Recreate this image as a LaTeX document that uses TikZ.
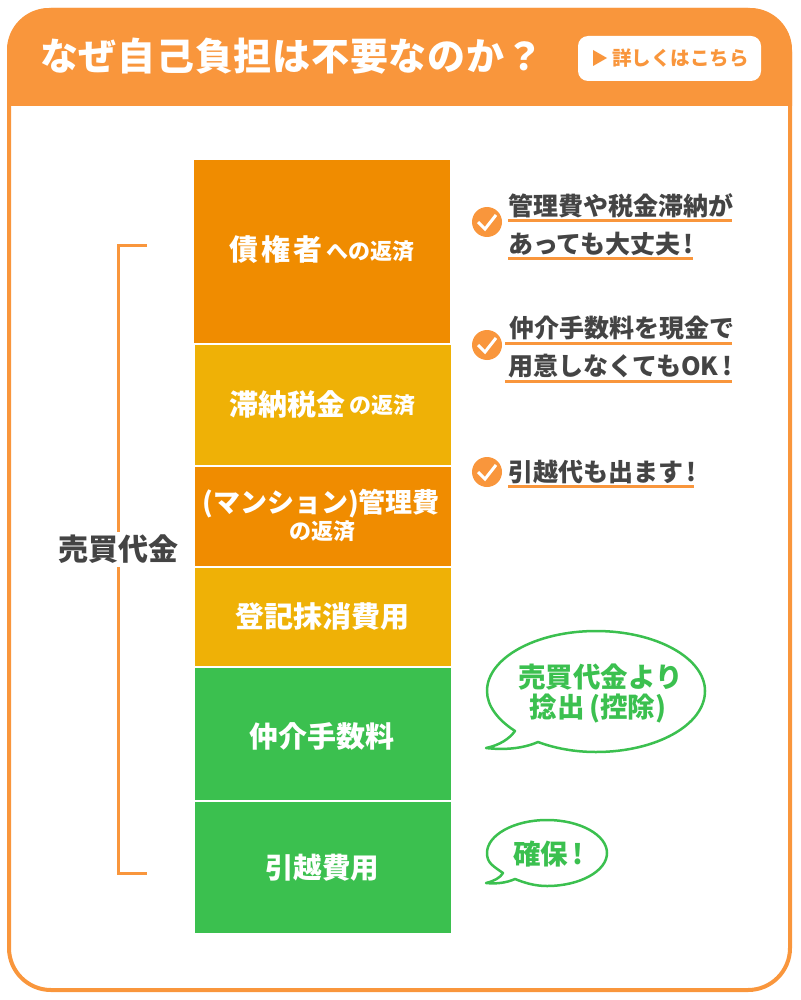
\documentclass[tikz,border=0pt]{standalone}
\usepackage{fontspec}
\newfontfamily\jp{Noto Sans CJK JP}
\newfontfamily\jpw[LetterSpace=12]{Noto Sans CJK JP}
\newfontfamily\jpt[LetterSpace=2]{Noto Sans CJK JP}
\definecolor{frameor}{HTML}{F9963C}
\definecolor{boxor}{HTML}{F08C00}
\definecolor{boxye}{HTML}{EFB106}
\definecolor{boxgr}{HTML}{3BC04F}
\definecolor{ink}{HTML}{444444}
\newcommand{\fs}[1]{\fontsize{#1}{#1}\selectfont}
\tikzset{
  tx/.style={inner sep=0pt,outer sep=0pt,font=\jp\bfseries},
  boxtx/.style={tx,text=white},
  stackbox/.style={inner sep=0pt,outer sep=0pt,anchor=north west},
  note/.style={tx,text=ink,anchor=base west,font=\jp\bfseries\fs{25}},
  under/.style={draw=frameor,line width=3pt},
  tick/.style={circle,fill=frameor,minimum size=30pt,inner sep=0pt,outer sep=0pt},
  tickmark/.style={draw=white,line width=3pt},
  bubble/.style={draw=boxgr,line width=2.5pt,fill=white,line join=round},
  bubtx/.style={tx,text=boxgr,font=\jp\bfseries\fs{27.5}},
}
\begin{document}
\begin{tikzpicture}[x=1pt,y=-1pt]
\useasboundingbox (0,0) rectangle (800,1000);
% frame and header
\draw[frameor,line width=4pt,rounded corners=42pt] (9,10) rectangle (790,990);
\fill[frameor] (7,106) {[rounded corners=42pt] -- (7,8) -- (792,8)} -- (792,106) -- cycle;
\node[tx,text=white,anchor=west,font=\jpt\bfseries\fs{38}] (title) at (40,56) {なぜ自己負担は不要なのか？};
\node[fill=white,rounded corners=10pt,minimum width=183pt,minimum height=45pt,inner sep=0pt,outer sep=0pt] (btn) at (669.5,58.5) {};
\fill[frameor] (593,50) -- (607,58) -- (593,66) -- cycle;
\node[tx,text=frameor,anchor=west,font=\jp\bfseries\fs{19.5}] (btntx) at (612,58) {詳しくはこちら};
% stack
\node[stackbox,fill=boxor,minimum width=256pt,minimum height=183pt] (b1) at (194,160) {};
\node[stackbox,fill=boxye,minimum width=256pt,minimum height=120pt] (b2) at (195,345) {};
\node[stackbox,fill=boxor,minimum width=256pt,minimum height=99pt] (b3) at (195,467) {};
\node[stackbox,fill=boxye,minimum width=256pt,minimum height=98pt] (b4) at (195,568) {};
\node[stackbox,fill=boxgr,minimum width=256pt,minimum height=132pt] (b5) at (195,668) {};
\node[stackbox,fill=boxgr,minimum width=256pt,minimum height=131pt] (b6) at (195,802) {};
\node[boxtx,anchor=west] (t1) at (229,250) {\jpw\bfseries\fs{29}債権者\hspace{4pt}\jp\bfseries\fs{22}\raisebox{1.5pt}{への返済}};
\node[boxtx,anchor=west] (t2) at (229,404) {\fs{29}滞納税金\,\fs{22}\raisebox{1.5pt}{の返済}};
\node[boxtx,anchor=center,font=\jp\bfseries\fs{27}] (t3) at (321,504) {(マンション)管理費};
\node[boxtx,anchor=center,font=\jp\bfseries\fs{22}] (t3b) at (322,531) {の返済};
\node[boxtx,anchor=center,font=\jp\bfseries\fs{29}] (t4) at (322,617) {登記抹消費用};
\node[boxtx,anchor=center,font=\jp\bfseries\fs{29}] (t5) at (322,736) {仲介手数料};
\node[boxtx,anchor=center,font=\jp\bfseries\fs{28.5}] (t6) at (322,868) {引越費用};
% bracket
\node[tx,text=ink,font=\jp\bfseries\fs{30},inner sep=3pt] (lab) at (118,549.5) {売買代金};
\coordinate (brt) at (147,245);
\coordinate (brb) at (147,873);
\draw[frameor,line width=3pt] (brt) -- (118,245) -- (lab.north -| 118,0);
\draw[frameor,line width=3pt] (lab.south -| 118,0) -- (118,873) -- (brb);
% notes
\node[note] (n1) at (508,215) {管理費や税金滞納が};
\node[note] (n2) at (508,253) {あっても大丈夫\hspace{3pt}!};
\node[note] (n3) at (509,337) {仲介手数料を現金で};
\node[note] (n4) at (508,375.5) {用意しなくてもOK\hspace{4pt}!};
\node[note] (n5) at (508,481.5) {引越代も出ます\hspace{3pt}!};
\draw[under] (508,221) -- (732,221);
\draw[under] (508,258) -- (693,258);
\draw[under] (505,343) -- (732,343);
\draw[under] (505,381) -- (732,381);
\draw[under] (508,486) -- (694,486);
\node[tick] (c1) at (487,222) {};
\node[tick] (c2) at (487,345) {};
\node[tick] (c3) at (487,472) {};
\foreach \c in {c1,c2,c3}
  \draw[tickmark] ([shift={(-9,0)}]\c.center) -- ([shift={(-2,7)}]\c.center) -- ([shift={(9,-7)}]\c.center);
% bubbles
\draw[bubble] (515,731)
  .. controls (498,720) and (487,706) .. (487,691)
  .. controls (487,658) and (536,631) .. (596,631)
  .. controls (656,631) and (705,658) .. (705,691)
  .. controls (705,725) and (656,752) .. (596,752)
  .. controls (574,752) and (554,748) .. (538,742)
  .. controls (522,749) and (503,750) .. (486,748)
  .. controls (500,745) and (509,739) .. (515,731) -- cycle;
\node[bubtx] (bt1) at (600.5,677) {売買代金より};
\node[bubtx] (bt2) at (598,709) {捻出\hspace{5pt}(控除)\hspace{5pt}};
\draw[bubble] (503,873)
  .. controls (493,866) and (487,863) .. (487,853)
  .. controls (487,835) and (514,820) .. (547,820)
  .. controls (580,820) and (607,835) .. (607,853)
  .. controls (607,871) and (580,886) .. (547,886)
  .. controls (535,886) and (525,883) .. (515,879)
  .. controls (506,883) and (496,884) .. (486,883)
  .. controls (494,881) and (500,878) .. (503,873) -- cycle;
\node[bubtx] (bt3) at (548,854) {確保\hspace{4pt}!};
\end{tikzpicture}
\end{document}
